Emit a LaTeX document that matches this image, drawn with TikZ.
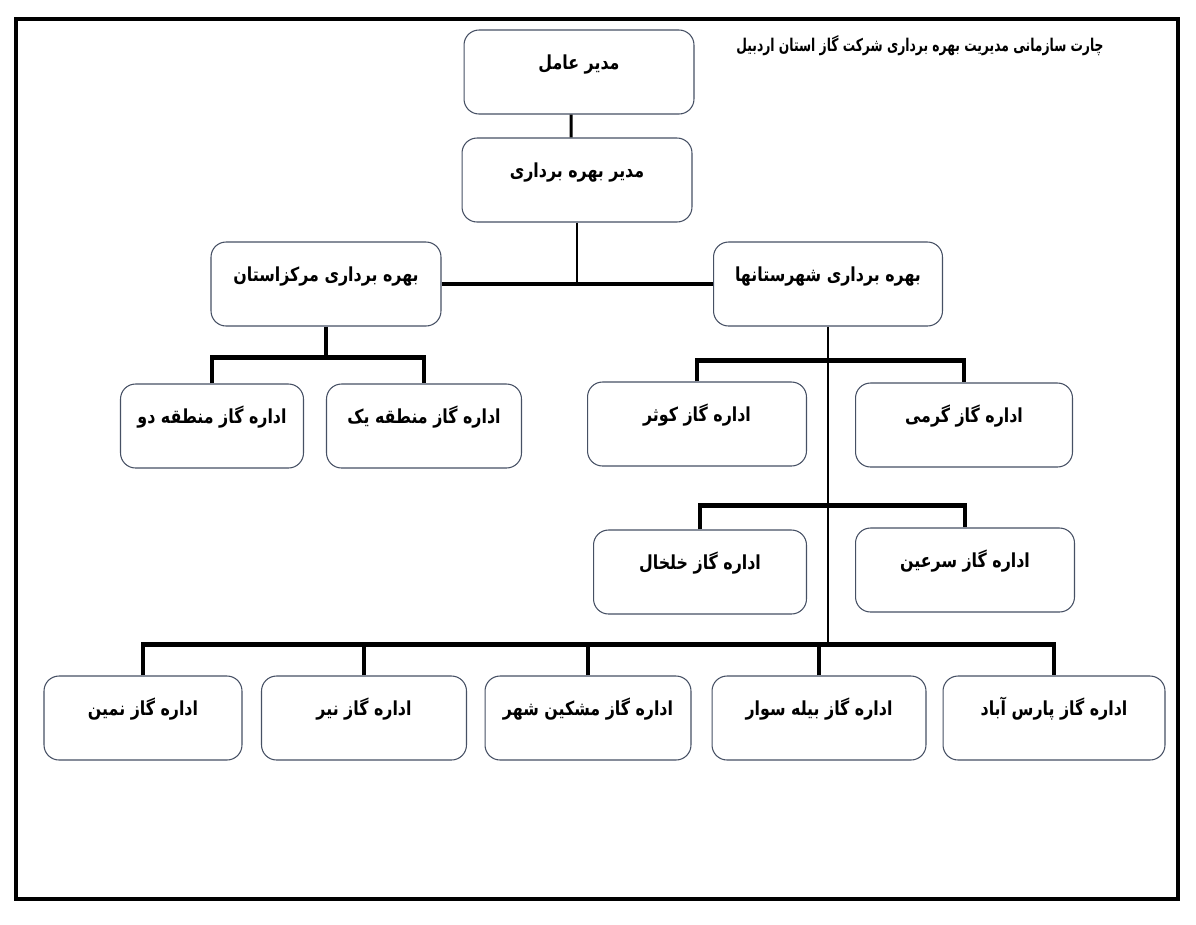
\documentclass[tikz,border=0pt]{standalone}
\usepackage{fontspec}
\usepackage{tikz}
\TeXXeTstate=1
\newfontfamily\arabicfont[Script=Arabic, FakeStretch=0.82]{DejaVu Sans}
\newfontfamily\titlefont[Script=Arabic, FakeStretch=0.7]{DejaVu Sans}
\definecolor{chartline}{RGB}{70,80,100}
\definecolor{chartblack}{RGB}{0,0,0}

\begin{document}
\begin{tikzpicture}[x=0.02cm, y=-0.02cm,
  box/.style={draw=chartline, fill=white, rounded corners=0.3cm, line width=0.6pt,
    minimum height=1.68cm, text height=0.78cm, text depth=0.9cm, inner sep=0pt,
    font=\arabicfont\bfseries\fontsize{11}{13}\selectfont},
  bus/.style={draw=chartblack, line width=2.3pt},
  stem/.style={draw=chartblack, line width=1.2pt}]
\useasboundingbox (0,0) rectangle (1196,924);
% Frame
\draw[line width=2pt] (16,19) rectangle (1178,899);

% Title
\node[font=\titlefont\bfseries\fontsize{10}{12}\selectfont] (title) at (920, 46) {\beginR چارت سازمانی مدیریت بهره برداری شرکت گاز استان اردبیل\endR};

% Top of the chart
\node[box, minimum width=4.6cm] (ceo) at (579, 72) {\beginR مدیر عامل\endR};
\node[box, minimum width=4.6cm] (opman) at (577, 180) {\beginR مدیر بهره برداری\endR};
\node[box, minimum width=4.6cm] (markaz) at (326, 284) {\beginR بهره برداری مرکزاستان\endR};
\node[box, minimum width=4.58cm] (shahr) at (828, 284) {\beginR بهره برداری شهرستانها\endR};

% Markaz offices
\node[box, minimum width=3.66cm] (mantaghe2) at (212, 426) {\beginR اداره گاز منطقه دو\endR};
\node[box, minimum width=3.9cm] (mantaghe1) at (424, 426) {\beginR اداره گاز منطقه یک\endR};

% Shahrestan offices
\node[box, minimum width=4.38cm] (kowsar) at (697, 424) {\beginR اداره گاز کوثر\endR};
\node[box, minimum width=4.34cm] (germi) at (964, 425) {\beginR اداره گاز گرمی\endR};
\node[box, minimum width=4.26cm] (khalkhal) at (700, 572) {\beginR اداره گاز خلخال\endR};
\node[box, minimum width=4.38cm] (sarein) at (965, 570) {\beginR اداره گاز سرعین\endR};

% Bottom row
\node[box, minimum width=3.96cm] (namin) at (143, 718) {\beginR اداره گاز نمین\endR};
\node[box, minimum width=4.1cm] (nir) at (364, 718) {\beginR اداره گاز نیر\endR};
\node[box, minimum width=4.12cm] (meshkin) at (588, 718) {\beginR اداره گاز مشکین شهر\endR};
\node[box, minimum width=4.28cm] (bilesavar) at (819, 718) {\beginR اداره گاز بیله سوار\endR};
\node[box, minimum width=4.44cm] (parsabad) at (1054, 718) {\beginR اداره گاز پارس آباد\endR};

% Connectors
\draw[line width=1.7pt] ([xshift=-0.16cm]ceo.south) -- ([xshift=-0.12cm]opman.north);
\draw[stem] (opman.south) -- (opman.south |- markaz.east);
\draw[bus] (markaz.east) -- (shahr.west);
\draw[bus] (mantaghe2.north) -- ++(0,-26) -| (mantaghe1.north);
\draw[bus] (markaz.south) -- ++(0,32);
\draw[bus] (kowsar.north) -- ++(0,-21) -| (germi.north);
\draw[bus] (khalkhal.north) -- ++(0,-24) -| (sarein.north);
\draw[bus] (namin.north) -- ++(0,-31) coordinate (bottombus) -| (parsabad.north);
\draw[bus] (nir.north) -- (nir.north |- bottombus);
\draw[bus] (meshkin.north) -- (meshkin.north |- bottombus);
\draw[bus] (bilesavar.north) -- (bilesavar.north |- bottombus);
\draw[stem] (shahr.south) -- (shahr.south |- bottombus);
\end{tikzpicture}
\end{document}
